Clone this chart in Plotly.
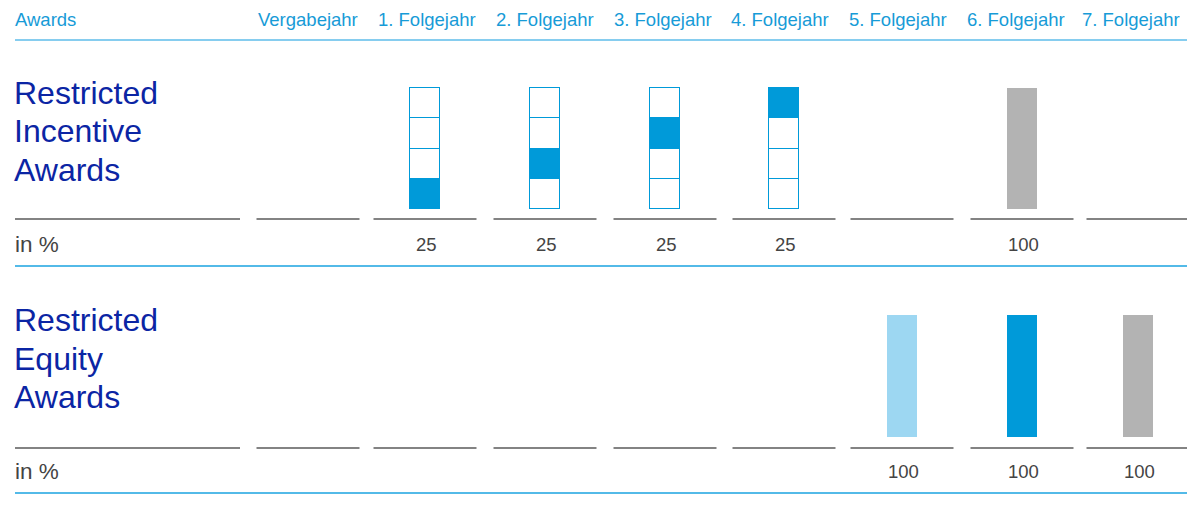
import plotly.graph_objects as go

# --- data ---
years = ["Vergabejahr", "1. Folgejahr", "2. Folgejahr", "3. Folgejahr",
         "4. Folgejahr", "5. Folgejahr", "6. Folgejahr", "7. Folgejahr"]
awards = ["Restricted Incentive Awards", "Restricted Equity Awards"]

# Restricted Incentive Awards: 25 % tranche per year, full block in year 6
rsi_tranche = [0, 25, 25, 25, 25, 0, 0, 0]
rsi_block = [0, 0, 0, 0, 0, 0, 100, 0]
rsi_labels = ["", "25", "25", "25", "25", "", "100", ""]

# Restricted Equity Awards
rea_values = [0, 0, 0, 0, 0, 100, 100, 100]
rea_labels = ["", "", "", "", "", "100", "100", "100"]

# --- layout helpers (pixel based, figure is 1187 x 517) ---
W, H = 1187, 517
col_x = [308, 425, 545, 665, 784, 902, 1022, 1138]
head_x = [308, 427, 545, 663, 780, 898, 1016, 1131]
BLUE = "#009ad9"
LIGHT = "#9dd7f2"
GREY = "#b3b3b3"
TITLE = "#0b25a4"
HEAD = "#179bd7"
TXT = "#444444"
FONT = "Liberation Sans, Arial, sans-serif"
PAD = 100 / 121  # one pixel in bar units


def py(p):
    return 1 - p / H


fig = go.Figure()

# incentive awards: 4 stacked cells, the n-th tranche year fills the n-th cell
tranche_years = [i for i, v in enumerate(rsi_tranche) if v > 0]
for k in range(4):
    fig.add_trace(go.Bar(
        x=[col_x[i] for i in tranche_years],
        y=[rsi_tranche[i] for i in tranche_years],
        width=30,
        marker=dict(color=[BLUE if n == k else "white" for n in range(len(tranche_years))],
                    line=dict(color=BLUE, width=1.2)),
        yaxis="y", hoverinfo="skip",
    ))
fig.add_trace(go.Bar(
    x=[col_x[i] for i, v in enumerate(rsi_block) if v > 0],
    y=[v for v in rsi_block if v > 0],
    width=30, marker=dict(color=GREY, line=dict(width=0)),
    yaxis="y", hoverinfo="skip",
))

# equity awards
rea_colors = [LIGHT, BLUE, GREY]
fig.add_trace(go.Bar(
    x=[col_x[i] for i, v in enumerate(rea_values) if v > 0],
    y=[v for v in rea_values if v > 0],
    width=30, marker=dict(color=rea_colors, line=dict(width=0)),
    yaxis="y2", hoverinfo="skip",
))

shapes = []
annotations = []

# header
annotations.append(dict(text="Awards", x=13, xanchor="left", y=py(20), yanchor="middle",
                        xref="x", yref="paper", showarrow=False,
                        font=dict(size=18.5, color=HEAD, family=FONT)))
for hx, name in zip(head_x, years):
    annotations.append(dict(text=name, x=hx, xanchor="center",
                            y=py(20), yanchor="middle", xref="x", yref="paper",
                            showarrow=False, font=dict(size=18.5, color=HEAD, family=FONT)))
shapes.append(dict(type="line", xref="x", yref="paper", x0=15, x1=W, y0=py(40), y1=py(40),
                   line=dict(color="#86cdef", width=2)))

panels = [
    dict(title=["Restricted", "Incentive", "Awards"], title_y=[93, 131, 170],
         underline=219, label_y=244, sep=266, labels=rsi_labels),
    dict(title=["Restricted", "Equity", "Awards"], title_y=[320, 359, 397],
         underline=448, label_y=471, sep=493, labels=rea_labels),
]
for p in panels:
    for line, ty in zip(p["title"], p["title_y"]):
        annotations.append(dict(text=line, x=12, xanchor="left", y=py(ty), yanchor="middle",
                                xref="x", yref="paper", showarrow=False,
                                font=dict(size=32, color=TITLE, family=FONT)))
    # underlines
    u = py(p["underline"])
    shapes.append(dict(type="line", xref="x", yref="paper", x0=15, x1=240, y0=u, y1=u,
                       line=dict(color="#5a5a5a", width=1.5)))
    for cx in col_x:
        shapes.append(dict(type="line", xref="x", yref="paper", x0=cx - 51.5, x1=min(cx + 51.5, W),
                           y0=u, y1=u, line=dict(color="#5a5a5a", width=1.5)))
    annotations.append(dict(text="in %", x=13, xanchor="left", y=py(p["label_y"]), yanchor="middle",
                            xref="x", yref="paper", showarrow=False,
                            font=dict(size=22.5, color=TXT, family=FONT)))
    for cx, lab in zip(col_x, p["labels"]):
        if lab:
            annotations.append(dict(text=lab, x=cx + 1, xanchor="center", y=py(p["label_y"]),
                                    yanchor="middle", xref="x", yref="paper", showarrow=False,
                                    font=dict(size=18.5, color=TXT, family=FONT)))
    s = py(p["sep"])
    shapes.append(dict(type="line", xref="x", yref="paper", x0=15, x1=W, y0=s, y1=s,
                       line=dict(color="#1aa3e0", width=1.3)))

fig.update_layout(
    width=W, height=H,
    margin=dict(l=0, r=0, t=0, b=0),
    paper_bgcolor="white", plot_bgcolor="white",
    barmode="stack", bargap=0, showlegend=False,
    xaxis=dict(range=[0, W], visible=False, fixedrange=True),
    yaxis=dict(range=[-2 * PAD, 100 + 2 * PAD], domain=[py(211), py(86)],
               visible=False, fixedrange=True),
    yaxis2=dict(range=[-2 * PAD, 100 + 2 * PAD], domain=[py(439), py(313)],
                visible=False, fixedrange=True, anchor="x"),
    shapes=shapes,
    annotations=annotations,
)

fig.write_html("out.html", config={"displayModeBar": False},
               post_script="document.body.style.margin='0';")
